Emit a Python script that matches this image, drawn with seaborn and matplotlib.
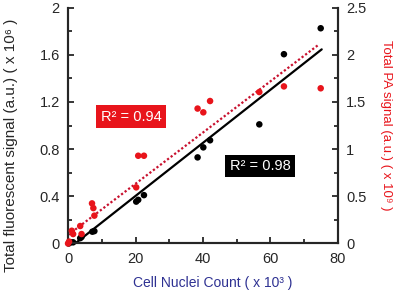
import numpy as np
import pandas as pd
import matplotlib
matplotlib.use("Agg")
import matplotlib.pyplot as plt
import seaborn as sns
from matplotlib.ticker import MultipleLocator

# Liczba jąder komórkowych (x 10^3)
nuclei = [0.2, 0.8, 1.5, 3.6, 4.0, 7.2, 7.8, 20.2, 20.8, 22.5,
          38.4, 40.1, 42.1, 56.7, 64.0, 74.9]
# Sygnał fluorescencji (x 10^6)
fluor = [0.0, 0.01, 0.01, 0.045, 0.055, 0.10, 0.105, 0.355, 0.37, 0.41,
         0.73, 0.815, 0.875, 1.01, 1.605, 1.825]

# Sygnał PA (x 10^9)
nuclei_pa = [0.0, 0.3, 1.1, 1.5, 3.6, 4.0, 7.1, 7.5, 7.8, 20.2, 20.8, 22.5,
             38.4, 40.1, 42.1, 56.7, 64.0, 74.9]
pa = [0.0, 0.02, 0.135, 0.10, 0.185, 0.10, 0.425, 0.375, 0.295, 0.595, 0.93, 0.93,
      1.43, 1.39, 1.51, 1.605, 1.665, 1.645]

# Linie trendu
fit_x = [2.1, 75.2]
fit_fluor = [0.0, 1.646]
fit_x_pa = [0.0, 74.4]
fit_pa = [0.09, 2.11]

r2_fluor = "R² = 0.98"
r2_pa = "R² = 0.94"

RED = "#E8141B"
NAVY = "#2E3192"

sns.set_style("ticks")
plt.rcParams['font.family'] = ['Liberation Sans', 'DejaVu Sans']

fig = plt.figure(figsize=(3.98, 2.93), dpi=100)
ax = fig.add_axes([0.171, 0.169, 0.678, 0.805])
ax2 = ax.twinx()

df1 = pd.DataFrame({'x': nuclei, 'y': fluor})
df2 = pd.DataFrame({'x': nuclei_pa, 'y': pa})

sns.lineplot(x=fit_x, y=fit_fluor, ax=ax, color='black', lw=1.6)
sns.scatterplot(data=df1, x='x', y='y', ax=ax, color='black', s=22,
                edgecolor='none', zorder=5, clip_on=False)
sns.lineplot(x=fit_x_pa, y=fit_pa, ax=ax2, color='#C8102E', lw=1.6,
             linestyle=(0, (1, 1)))
sns.scatterplot(data=df2, x='x', y='y', ax=ax2, color=RED, s=22,
                edgecolor='none', zorder=5, clip_on=False)

ax.set_xlim(0, 80)
ax.set_ylim(0, 2)
ax2.set_ylim(0, 2.5)

ax.xaxis.set_major_locator(MultipleLocator(20))
ax.xaxis.set_minor_locator(MultipleLocator(10))
ax.yaxis.set_major_locator(MultipleLocator(0.4))
ax.yaxis.set_minor_locator(MultipleLocator(0.2))
ax2.yaxis.set_major_locator(MultipleLocator(0.5))
ax2.yaxis.set_minor_locator(MultipleLocator(0.25))

fmt = lambda v, p: f"{v:g}"
ax.xaxis.set_major_formatter(fmt)
ax.yaxis.set_major_formatter(fmt)
ax2.yaxis.set_major_formatter(fmt)

for a in (ax, ax2):
    a.spines['top'].set_visible(False)
    for s in a.spines.values():
        s.set_linewidth(1.5)
    a.tick_params(which='both', direction='in', width=1.3, labelsize=10.5, pad=6)
    a.tick_params(which='major', length=4)
    a.tick_params(which='minor', length=3)

ax.set_xlabel("Cell Nuclei Count ( x 10³ )", color=NAVY, fontsize=10, va='center')
ax.xaxis.set_label_coords(0.537, -0.168)
ax.set_ylabel("Total fluorescent signal (a.u.) ( x 10⁶ )", fontsize=11, va='center')
ax.yaxis.set_label_coords(-0.212, 0.417)
ax2.set_ylabel("Total PA signal (a.u.) ( x 10⁹ )", color=RED, fontsize=9.5,
               rotation=270, va='center')
ax2.yaxis.set_label_coords(1.18, 0.5)

ax.text(18.7, 1.075, r2_pa, color='white', fontsize=10.5, ha='center', va='center',
        bbox=dict(boxstyle='square,pad=0.3', fc=RED, ec='none'))
ax.text(56.9, 0.657, r2_fluor, color='white', fontsize=10.5, ha='center', va='center',
        bbox=dict(boxstyle='square,pad=0.3', fc='black', ec='none'))

fig.savefig("out.png", dpi=100)
